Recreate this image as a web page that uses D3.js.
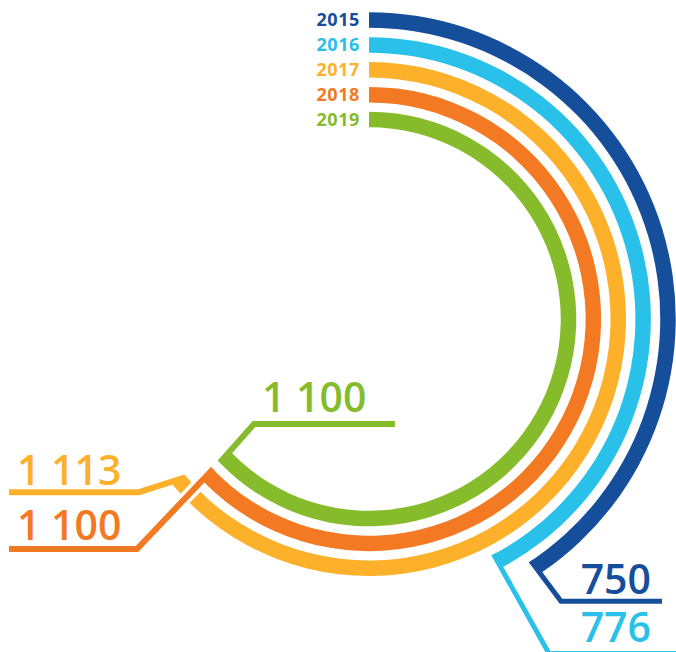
<!DOCTYPE html>
<html>
<head>
<meta charset="utf-8">
<script src="https://cdn.jsdelivr.net/npm/d3@7"></script>
<style>
  html, body { margin: 0; padding: 0; background: #fff; }
  svg { display: block; }
</style>
</head>
<body>
<div id="chart"></div>
<script>
const years = ["2015", "2016", "2017", "2018", "2019"];
const values = [750, 776, 1113, 1100, 1100];
const valueLabels = ["750", "776", "1 113", "1 100", "1 100"];
const colors = ["#154f9c", "#29c1ea", "#fdb12b", "#f37a23", "#86bc2b"];

const width = 676, height = 652;
const cx = 369, cy = 319;
const band = 15.5;

// where each leader bends and ends, and where its number sits
const callouts = {
  "2015": { corner: [561, 601.3], end: [662, 601.3], label: [651, 593.5], anchor: "end", lw: 5 },
  "2016": { corner: [549, 653.5], end: [690, 653.5], label: [651, 641.5], anchor: "end", lw: 5 },
  "2017": { corner: [139, 492.2], end: [9, 492.2], label: [17, 485], anchor: "start", lw: 6 },
  "2018": { corner: [137, 549], end: [9, 549], label: [17, 540], anchor: "start", lw: 6, knockout: true },
  "2019": { corner: [254, 424], end: [395, 424], label: [262, 411.5], anchor: "start", lw: 6 }
};

const svg = d3.select("#chart").append("svg")
  .attr("width", width)
  .attr("height", height);

const rScale = d3.scalePoint().domain(years).range([299, 199.5]);
// degrees clockwise from 12 o'clock
const aScale = d3.scaleLinear().domain([750, 1100]).range([146.7, 226.9]);

const polar = (r, deg) => {
  const a = deg * Math.PI / 180;
  return [cx + r * Math.sin(a), cy - r * Math.cos(a)];
};
const unit = (p, q) => {
  const dx = q[0] - p[0], dy = q[1] - p[1], l = Math.hypot(dx, dy);
  return [dx / l, dy / l];
};

years.forEach((year, i) => {
  const c = callouts[year];
  const w = c.lw;
  const r = rScale(year);
  const deg = aScale(values[i]);
  const th = deg * Math.PI / 180;
  const tan = [Math.cos(th), Math.sin(th)];

  // the band ends in a point on the outside of the turn into the leader
  let D = unit(polar(r, deg), c.corner);
  const turn = tan[0] * D[1] - tan[1] * D[0];
  const rT = turn > 0 ? r + band / 2 : r - band / 2;
  const rF = turn > 0 ? r - band / 2 : r + band / 2;
  const T = polar(rT, deg);
  let m, S;
  for (let k = 0; k < 3; k++) {
    m = [-D[1], D[0]];
    if (m[0] * tan[0] + m[1] * tan[1] > 0) m = [-m[0], -m[1]];
    S = [T[0] + m[0] * w / 2, T[1] + m[1] * w / 2];
    D = unit(S, c.corner);
  }

  // where the inner side of the leader meets the far edge of the band
  const Q = [T[0] + m[0] * w, T[1] + m[1] * w];
  const q0 = [Q[0] - cx, Q[1] - cy];
  const b = q0[0] * D[0] + q0[1] * D[1];
  const disc = b * b - (q0[0] * q0[0] + q0[1] * q0[1] - rF * rF);
  let N = Q;
  if (disc >= 0) {
    const roots = [-b - Math.sqrt(disc), -b + Math.sqrt(disc)].filter(s => s > 0);
    if (roots.length) N = [Q[0] + D[0] * roots[0], Q[1] + D[1] * roots[0]];
  }
  let phiN = Math.atan2(N[0] - cx, -(N[1] - cy));
  if (phiN < 0) phiN += 2 * Math.PI;

  if (c.knockout) {
    svg.append("path")
      .attr("d", d3.line()([S, c.corner]))
      .attr("fill", "none")
      .attr("stroke", "#fff")
      .attr("stroke-width", w + 7);
  }

  const p = d3.path();
  p.moveTo(cx, cy - rT);
  p.arc(cx, cy, rT, -Math.PI / 2, th - Math.PI / 2);
  p.lineTo(N[0], N[1]);
  p.arc(cx, cy, rF, phiN - Math.PI / 2, -Math.PI / 2, true);
  p.closePath();

  svg.append("path")
    .attr("d", p.toString())
    .attr("fill", colors[i]);

  svg.append("path")
    .attr("d", d3.line()([S, c.corner, c.end]))
    .attr("fill", "none")
    .attr("stroke", colors[i])
    .attr("stroke-width", w)
    .attr("stroke-linejoin", "miter");

  svg.append("text")
    .attr("x", cx - 9)
    .attr("y", cy - r)
    .attr("dy", "0.36em")
    .attr("text-anchor", "end")
    .attr("fill", colors[i])
    .style("font-family", "'Open Sans', sans-serif")
    .style("font-weight", "bold")
    .style("font-size", "18px")
    .style("letter-spacing", "0.6px")
    .text(year);

  svg.append("text")
    .attr("x", c.label[0])
    .attr("y", c.label[1])
    .attr("text-anchor", c.anchor)
    .attr("fill", colors[i])
    .style("font-family", "'Open Sans', sans-serif")
    .style("font-weight", 600)
    .style("font-size", "41px")
    .text(valueLabels[i]);
});
</script>
</body>
</html>
